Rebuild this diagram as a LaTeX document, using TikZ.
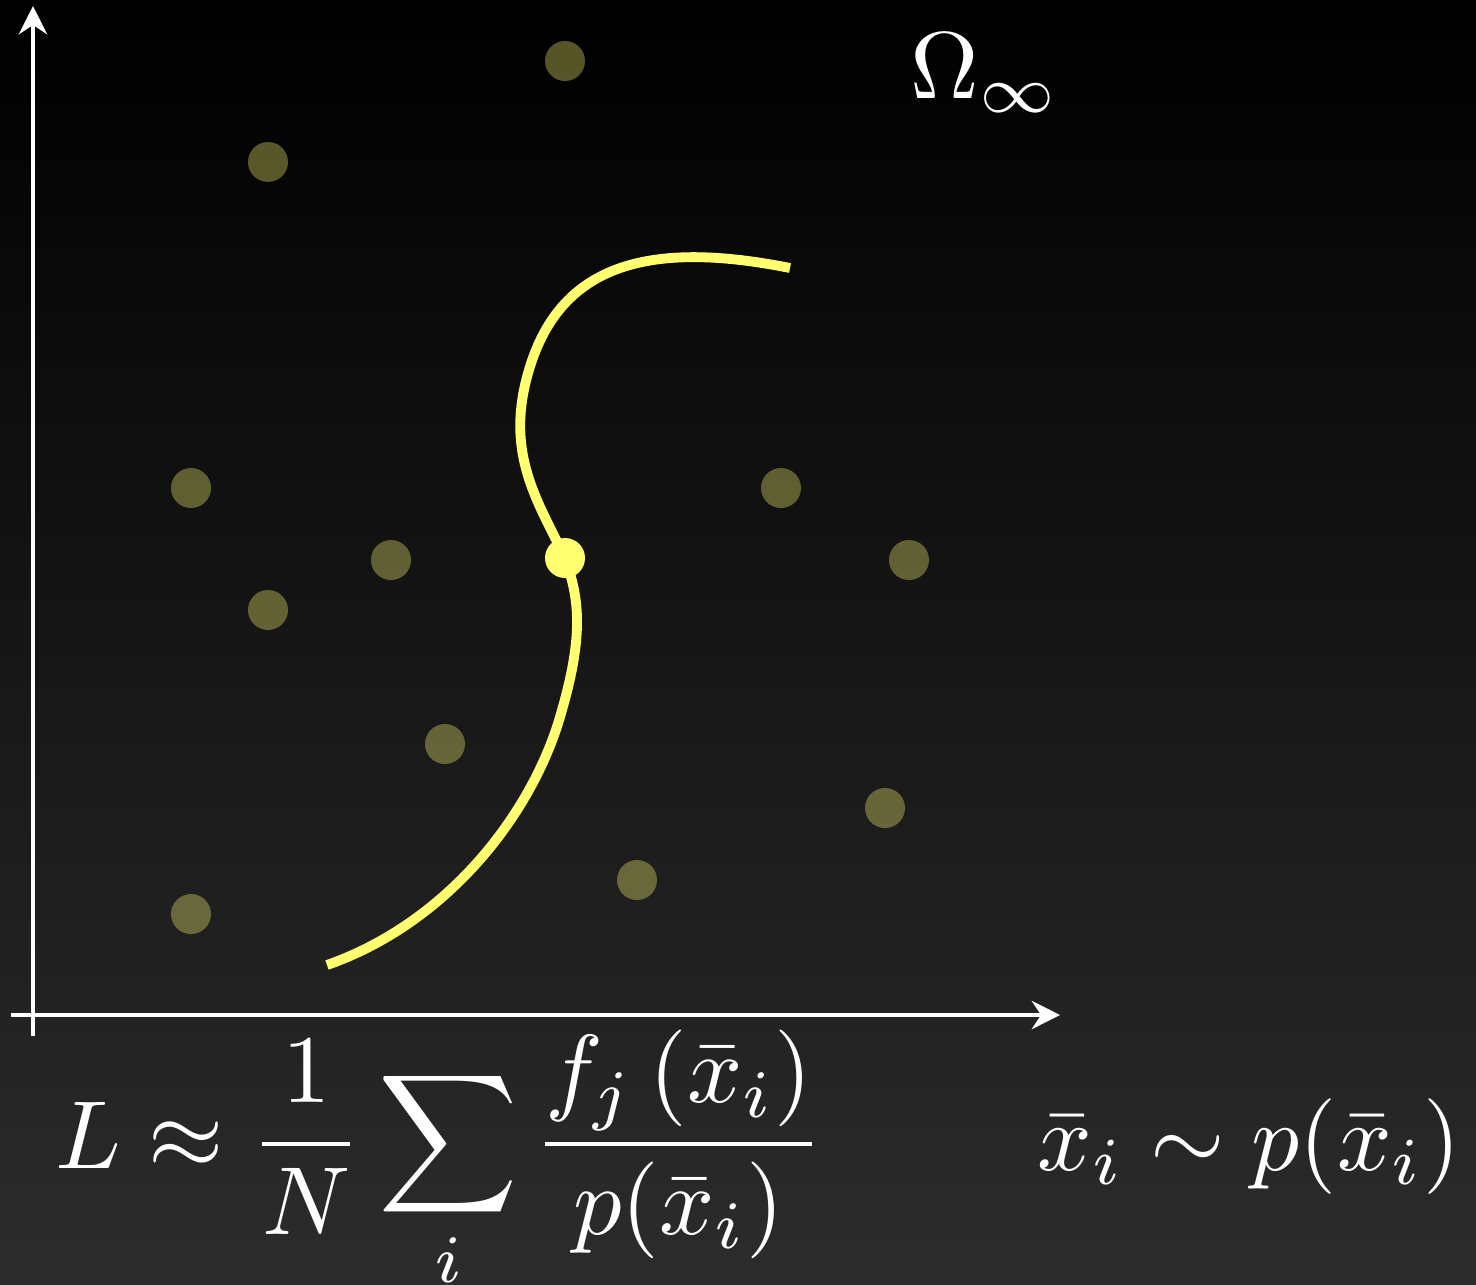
\documentclass[tikz,border=0pt]{standalone}
\usepackage{graphicx}
\usetikzlibrary{arrows.meta}
\definecolor{curvey}{RGB}{255,255,112}
\definecolor{doty}{RGB}{255,255,120}
\definecolor{bgbot}{RGB}{44,44,44}
\begin{document}
\begin{tikzpicture}[x=0.01cm,y=-0.01cm,
  axis/.style={draw=white,line width=1.4pt,-{Stealth[length=8pt,width=8pt]}},
  sample/.style={circle,fill=doty,fill opacity=0.33,minimum size=0.4cm,inner sep=0pt},
  hit/.style={circle,fill=curvey,minimum size=0.4cm,inner sep=0pt},
  path/.style={draw=curvey,line width=2.8pt},
  lbl/.style={text=white,inner sep=0pt}]
\shade[top color=black,bottom color=bgbot] (0,0) rectangle (1476,1284);
\useasboundingbox (0,0) rectangle (1476,1284);
% axes
\coordinate (ybot) at (33,1036);
\coordinate (ytop) at (33,6);
\coordinate (xl) at (11,1015);
\coordinate (xr) at (1060,1015);
\draw[axis] (ybot) -- (ytop);
\draw[axis] (xl) -- (xr);
% samples
\node[sample] (s1) at (565,61) {};
\node[sample] (s2) at (268,162) {};
\node[sample] (s3) at (191,488) {};
\node[sample] (s4) at (391,560) {};
\node[sample] (s5) at (268,610) {};
\node[sample] (s6) at (781,488) {};
\node[sample] (s7) at (909,560) {};
\node[sample] (s8) at (445,744) {};
\node[sample] (s9) at (885,808) {};
\node[sample] (s10) at (637,880) {};
\node[sample] (s11) at (191,914) {};
% light path
\coordinate (pstart) at (327,965);
\coordinate (pend) at (790,268);
\node[hit] (h) at (565,558) {};
\draw[path] (pstart) .. controls (450,922) and (535,810) .. (562,710)
  .. controls (585,630) and (578,595) .. (h.center);
\draw[path] (h.center) .. controls (540,505) and (508,460) .. (525,385)
  .. controls (552,268) and (640,238) .. (pend);
% labels
\node[lbl,anchor=base west] (omega) at (910,98) {\scalebox{2.7}{$\Omega_\infty$}};
\node[lbl,anchor=base west] (est) at (55,1168) {\scalebox{2.75}{$\displaystyle L \approx \frac{1}{N}\sum_i \frac{f_j\left(\bar{x}_i\right)}{p(\bar{x}_i)}$}};
\node[lbl,anchor=base west] (dist) at (1037,1170) {\scalebox{2.72}{$\bar{x}_i \sim p(\bar{x}_i)$}};
\end{tikzpicture}
\end{document}
